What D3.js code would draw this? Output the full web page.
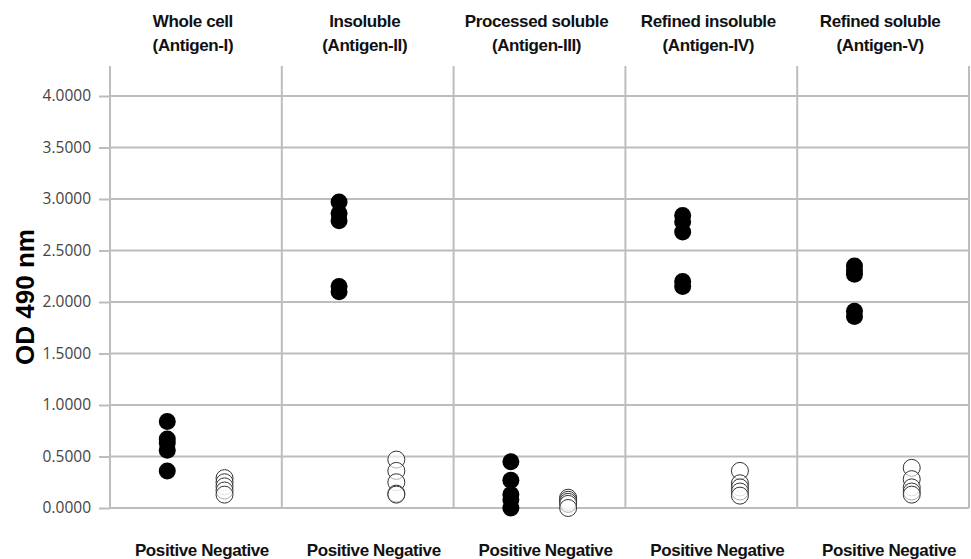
<!DOCTYPE html>
<html>
<head>
<meta charset="utf-8">
<script src="https://cdn.jsdelivr.net/npm/d3@7"></script>
<style>
  body { margin: 0; background: #fff; }
  .head, .cat { font-family: "Liberation Sans", Arial, sans-serif; font-weight: bold; font-size: 17px; fill: #111; letter-spacing: -0.4px; }
  .tick text { font-family: "Open Sans", sans-serif; font-size: 15.5px; fill: #444; }
</style>
</head>
<body>
<script>
const width = 971;
const height = 559;

const panels = ["Whole cell|(Antigen-I)", "Insoluble|(Antigen-II)", "Processed soluble|(Antigen-III)",
  "Refined insoluble|(Antigen-IV)", "Refined soluble|(Antigen-V)"];
const groups = ["Positive", "Negative"];
const yTicks = [0, 0.5, 1, 1.5, 2, 2.5, 3, 3.5, 4];

// OD values per panel
const positive = [
  [0.84, 0.67, 0.63, 0.56, 0.36],
  [2.97, 2.86, 2.79, 2.15, 2.10],
  [0.45, 0.27, 0.13, 0.08, 0.0],
  [2.84, 2.78, 2.68, 2.20, 2.15],
  [2.35, 2.30, 2.27, 1.91, 1.86]
];
const negative = [
  [0.29, 0.25, 0.21, 0.17, 0.13],
  [0.47, 0.36, 0.25, 0.14, 0.13],
  [0.10, 0.08, 0.06, 0.04, 0.0],
  [0.36, 0.24, 0.20, 0.16, 0.12],
  [0.39, 0.28, 0.20, 0.16, 0.13]
];

let margin = { top: 66, right: 2, bottom: 51, left: 110 };

let svg = d3.select("body").append("svg")
  .attr("width", width)
  .attr("height", height);

let xPanel = d3.scaleBand()
  .domain(panels)
  .range([margin.left, width - margin.right]);

let xGroup = d3.scalePoint()
  .domain(groups)
  .range([0, xPanel.bandwidth()])
  .padding(1);

let yScale = d3.scaleLinear()
  .domain([0, 4])
  .range([height - margin.bottom, 96]);

// horizontal grid + axis
let yAxis = d3.axisLeft(yScale)
  .tickValues(yTicks)
  .tickFormat(d3.format(".4f"))
  .tickSize(11)
  .tickPadding(8);

let axisG = svg.append("g")
  .attr("transform", `translate(${margin.left}, 0)`)
  .call(yAxis);
axisG.select(".domain").remove();
axisG.selectAll(".tick line").attr("stroke", "#bdbdbd").attr("stroke-width", 2);

svg.append("g")
  .selectAll("line")
  .data(yTicks)
  .join("line")
  .attr("x1", margin.left)
  .attr("x2", width - margin.right)
  .attr("y1", (d) => yScale(d))
  .attr("y2", (d) => yScale(d))
  .attr("stroke", "#bdbdbd")
  .attr("stroke-width", 2);

// vertical panel separators
let edges = panels.map((p) => xPanel(p)).concat([width - margin.right]);
svg.append("g")
  .selectAll("line")
  .data(edges)
  .join("line")
  .attr("x1", (d) => d)
  .attr("x2", (d) => d)
  .attr("y1", margin.top)
  .attr("y2", yScale(0))
  .attr("stroke", "#bdbdbd")
  .attr("stroke-width", 2);

// panel headers
let heads = svg.append("g")
  .selectAll("text")
  .data(panels)
  .join("text")
  .attr("class", "head")
  .attr("text-anchor", "middle")
  .attr("transform", (d) => `translate(${xPanel(d) + xPanel.bandwidth() / 2 - 3}, 0)`);
heads.selectAll("tspan")
  .data((d) => d.split("|"))
  .join("tspan")
  .attr("x", 0)
  .attr("y", (d, i) => 27 + i * 24)
  .text((d) => d);

// bottom category labels
svg.append("g")
  .selectAll("text")
  .data(panels)
  .join("text")
  .attr("class", "cat")
  .attr("text-anchor", "middle")
  .attr("x", (d) => xPanel(d) + xPanel.bandwidth() / 2 + 6)
  .attr("y", 556)
  .text(groups.join(" "));

// points
panels.forEach((p, i) => {
  let g = svg.append("g");
  g.selectAll("circle.neg")
    .data(negative[i])
    .join("circle")
    .attr("class", "neg")
    .attr("cx", xPanel(p) + xGroup("Negative"))
    .attr("cy", (d) => yScale(d))
    .attr("r", 8.5)
    .attr("fill", "#fff")
    .attr("fill-opacity", 0.6)
    .attr("stroke", "#333")
    .attr("stroke-width", 1);
  g.selectAll("circle.pos")
    .data(positive[i])
    .join("circle")
    .attr("class", "pos")
    .attr("cx", xPanel(p) + xGroup("Positive"))
    .attr("cy", (d) => yScale(d))
    .attr("r", 8.5)
    .attr("fill", "#000");
});

// y title
svg.append("text")
  .attr("transform", "translate(34, 297) rotate(-90)")
  .attr("text-anchor", "middle")
  .style("font-family", "Liberation Sans, Arial, sans-serif")
  .style("font-weight", "bold")
  .style("font-size", "26px")
  .text("OD 490 nm");
</script>
</body>
</html>
